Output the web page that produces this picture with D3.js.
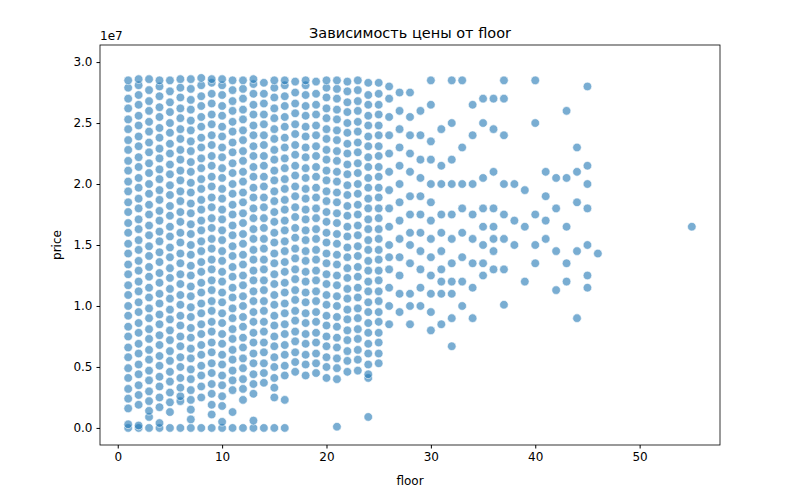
<!DOCTYPE html>
<html><head><meta charset="utf-8">
<script src="https://cdn.jsdelivr.net/npm/d3@7"></script>
<style>body{margin:0;background:#fff}text{font-family:"DejaVu Sans",sans-serif}</style>
</head><body><div id="chart"></div>
<script>
"use strict";

// price values in millions, read per floor from the picture
const floors = [1,2,3,4,5,6,7,8,9,10,11,12,13,14,15,16,17,18,19,20,21,22,23,24,25,
  26,27,28,29,30,31,32,33,34,35,36,37,38,39,40,41,42,43,44,45,46,55];

const pricesByFloor = [
  [0,0.3,1.6,2.4,3.2,4.1,4.9,5.8,6.6,7.5,8.3,9.2,10,10.9,11.7,12.6,13.4,14.3,15.1,16,16.8,17.7,18.5,19.4,20.2,21.1,21.9,22.8,23.6,24.5,25.3,26.2,27,27.9,28.5],
  [0,0.2,1.9,2.7,3.5,4.4,5.2,6.1,6.9,7.8,8.6,9.5,10.3,11.2,12,12.9,13.7,14.6,15.4,16.3,17.1,18,18.8,19.7,20.5,21.4,22.2,23.1,23.9,24.8,25.6,26.5,27.3,28.1,28.6],
  [0,0.9,1.4,2.2,3,3.9,4.7,5.6,6.4,7.3,8.1,9,9.8,10.7,11.5,12.4,13.2,14.1,14.9,15.8,16.6,17.5,18.3,19.2,20,20.9,21.7,22.6,23.4,24.3,25.1,26,26.8,27.7,28.6],
  [0,0.4,1.7,2.5,3.4,4.2,5.1,5.9,6.8,7.6,8.5,9.3,10.2,11,11.9,12.7,13.6,14.4,15.3,16.1,17,17.8,18.7,19.5,20.4,21.2,22.1,22.9,23.8,24.6,25.5,26.3,27.2,28,28.5],
  [0,1.3,2.1,2.9,3.8,4.6,5.5,6.3,7.2,8,8.9,9.7,10.6,11.4,12.3,13.1,14,14.8,15.7,16.5,17.4,18.2,19.1,19.9,20.8,21.6,22.5,23.3,24.2,25,25.9,26.7,27.6,28.5],
  [0,2.2,2.6,3.3,4.1,5,5.8,6.7,7.5,8.4,9.2,10.1,10.9,11.8,12.6,13.5,14.3,15.2,16,16.9,17.7,18.6,19.4,20.3,21.1,22,22.8,23.7,24.5,25.4,26.2,27.1,27.9,28.6],
  [0,0.7,1.5,2.3,3.1,4,4.8,5.7,6.5,7.4,8.2,9.1,9.9,10.8,11.6,12.5,13.3,14.2,15,15.9,16.7,17.6,18.4,19.3,20.1,21,21.8,22.7,23.5,24.4,25.2,26.1,26.9,27.8,28.6],
  [0,2.5,3.4,4.3,5.1,6,6.8,7.7,8.5,9.4,10.2,11.1,11.9,12.8,13.6,14.5,15.3,16.2,17,17.9,18.7,19.6,20.4,21.3,22.1,23,23.8,24.7,25.5,26.4,27.2,28.1,28.7],
  [0,1.1,1.9,2.8,3.6,4.5,5.3,6.2,7,7.9,8.7,9.6,10.4,11.3,12.1,13,13.8,14.7,15.5,16.4,17.2,18.1,18.9,19.8,20.6,21.5,22.3,23.2,24,24.9,25.7,26.6,27.4,28.3,28.6],
  [0,0.5,1.8,2.6,3.5,4.3,5.2,6,6.9,7.7,8.6,9.4,10.3,11.1,12,12.8,13.7,14.5,15.4,16.2,17.1,17.9,18.8,19.6,20.5,21.3,22.2,23,23.9,24.7,25.6,26.4,27.3,28.1,28.6],
  [0,1.3,3.1,3.9,4.7,5.6,6.4,7.3,8.1,9,9.8,10.7,11.5,12.4,13.2,14.1,14.9,15.8,16.6,17.5,18.3,19.2,20,20.9,21.7,22.6,23.4,24.3,25.1,26,26.8,27.7,28.5],
  [0,2.3,3.2,4,4.9,5.7,6.6,7.4,8.3,9.1,10,10.8,11.7,12.5,13.4,14.2,15.1,15.9,16.8,17.6,18.5,19.3,20.2,21,21.9,22.7,23.6,24.4,25.3,26.1,27,27.8,28.5],
  [0,0.6,2.8,3.6,4.4,5.3,6.1,7,7.8,8.7,9.5,10.4,11.2,12.1,12.9,13.8,14.6,15.5,16.3,17.2,18,18.9,19.7,20.6,21.4,22.3,23.1,24,24.8,25.7,26.5,27.4,28.2,28.6],
  [0,3.7,4.5,5.3,6.2,7,7.9,8.7,9.6,10.4,11.3,12.1,13,13.8,14.7,15.5,16.4,17.2,18.1,18.9,19.8,20.6,21.5,22.3,23.2,24,24.9,25.7,26.6,27.4,28.3],
  [0,2.5,3.3,4.1,5,5.8,6.7,7.5,8.4,9.2,10.1,10.9,11.8,12.6,13.5,14.3,15.2,16,16.9,17.7,18.6,19.4,20.3,21.1,22,22.8,23.7,24.5,25.4,26.2,27.1,27.9,28.5],
  [0,2.3,4.3,5.1,6,6.8,7.7,8.5,9.4,10.2,11.1,11.9,12.8,13.6,14.5,15.3,16.2,17,17.9,18.7,19.6,20.4,21.3,22.1,23,23.8,24.7,25.5,26.4,27.2,28.1,28.5],
  [4.6,5.4,6.2,7.1,7.9,8.8,9.6,10.5,11.3,12.2,13,13.9,14.7,15.6,16.4,17.3,18.1,19,19.8,20.7,21.5,22.4,23.2,24.1,24.9,25.8,26.6,27.5,28.4],
  [4.3,5.2,6,6.9,7.7,8.6,9.4,10.3,11.1,12,12.8,13.7,14.5,15.4,16.2,17.1,17.9,18.8,19.6,20.5,21.3,22.2,23,23.9,24.7,25.6,26.4,27.3,28.1,28.5],
  [4.5,5.3,6.1,7,7.8,8.7,9.5,10.4,11.2,12.1,12.9,13.8,14.6,15.5,16.3,17.2,18,18.9,19.7,20.6,21.4,22.3,23.1,24,24.8,25.7,26.5,27.4,28.4],
  [4.1,5,5.8,6.7,7.5,8.4,9.2,10.1,10.9,11.8,12.6,13.5,14.3,15.2,16,16.9,17.7,18.6,19.4,20.3,21.1,22,22.8,23.7,24.5,25.4,26.2,27.1,27.9,28.5],
  [0.1,4,4.9,5.7,6.6,7.4,8.3,9.1,10,10.8,11.7,12.5,13.4,14.2,15.1,15.9,16.8,17.6,18.5,19.3,20.2,21,21.9,22.7,23.6,24.4,25.3,26.1,27,27.8,28.5],
  [4.6,5.5,6.3,7.2,8,8.9,9.7,10.6,11.4,12.3,13.1,14,14.8,15.7,16.5,17.4,18.2,19.1,19.9,20.8,21.6,22.5,23.3,24.2,25,25.9,26.7,27.6,28.4],
  [4.7,5.6,6.4,7.3,8.1,9,9.8,10.7,11.5,12.4,13.2,14.1,14.9,15.8,16.6,17.5,18.3,19.2,20,20.9,21.7,22.6,23.4,24.3,25.1,26,26.8,27.7,28.5],
  [0.9,4.1,4.4,5.2,6.1,6.9,7.8,8.6,9.5,10.3,11.2,12,12.9,13.7,14.6,15.4,16.3,17.1,18,18.8,19.7,20.5,21.4,22.2,23.1,23.9,24.8,25.6,26.5,27.3,28.3],
  [5.3,6.1,7,7.8,8.7,9.5,10.4,11.2,12.1,12.9,13.8,14.6,15.5,16.3,17.2,18,18.9,19.7,20.6,21.4,22.3,23.1,24,24.8,25.7,26.5,27.4,28.3],
  [8.5,10,11.5,13,14,15,16.5,18,19.5,21,22.5,24,25.5,27,28],
  [9.5,11,12.5,14,15.5,17,18.5,20,21.5,23,24.5,26,27.5],
  [8.5,10,11,13.5,15,16,17.5,19,21,22.5,24,25.5,27.5],
  [10,11.5,13,14.5,16,17.5,19,20.5,22,24,26],
  [8,9.5,11,12.5,14,15.5,17,18.5,20,22,23.5,26.5,28.5],
  [8.5,11,12,13,14.5,16,17.5,20,21.5,24.5],
  [6.7,9,11,12,13.5,15.5,17.5,20,22,25,28.5],
  [10,12,14,16,18,20,23,28.5],
  [9,11.5,13.5,15.5,17.5,20,24,26.5],
  [12.5,13.5,15,16.5,18,20.5,25,27],
  [13,14.5,15.5,16.5,18,21,24.5,27],
  [10.1,13,15.5,17.5,20,24,27,28.5],
  [15,17,20],
  [12,16.5,19.5],
  [13.5,15,17.5,25,28.5],
  [15.5,17,19,21],
  [11.3,14.5,18,20.5],
  [12,13.5,16.5,20.5,26],
  [9,14.5,18.5,21,23],
  [11.5,12.5,15,18,20,21.5,28],
  [14.3],
  [16.5]
];

const xTicks = [0,10,20,30,40,50];
const yTicks = [0,0.5,1.0,1.5,2.0,2.5,3.0];

const points = [];
floors.forEach((f, i) => pricesByFloor[i].forEach(p => points.push({ floor: f, price: p * 1e6 })));

const W = 800, H = 500;
const margin = { top: 45, right: 80, bottom: 55, left: 100 };
const svg = d3.select("#chart").append("svg").attr("width", W).attr("height", H);

const x = d3.scaleLinear().domain([-1.7, 57.7]).range([margin.left, W - margin.right]);
const y = d3.scaleLinear().domain([-0.14e7, 3.14e7]).range([H - margin.bottom, margin.top]);

svg.append("g").selectAll("circle").data(points).enter().append("circle")
  .attr("cx", d => x(d.floor)).attr("cy", d => y(d.price)).attr("r", 4.3)
  .attr("fill", "#1f77b4").attr("fill-opacity", 0.6)
  .attr("stroke", "#fff").attr("stroke-width", 0.6);

const xAxis = svg.append("g").attr("transform", `translate(0,${H - margin.bottom})`)
  .call(d3.axisBottom(x).tickValues(xTicks).tickSize(3.5).tickPadding(4));
const yAxis = svg.append("g").attr("transform", `translate(${margin.left},0)`)
  .call(d3.axisLeft(y).tickValues(yTicks.map(v => v * 1e7)).tickFormat(d => (d / 1e7).toFixed(1)).tickSize(3.5).tickPadding(4));
[xAxis, yAxis].forEach(a => {
  a.selectAll("text").attr("font-size", 12).attr("fill", "#000");
  a.select(".domain").remove();
});

svg.append("rect").attr("x", margin.left).attr("y", margin.top)
  .attr("width", W - margin.left - margin.right).attr("height", H - margin.top - margin.bottom)
  .attr("fill", "none").attr("stroke", "#000").attr("stroke-width", 0.8);

svg.append("text").attr("x", margin.left).attr("y", margin.top - 5).attr("font-size", 12).text("1e7");
svg.append("text").attr("x", (margin.left + W - margin.right) / 2).attr("y", margin.top - 7)
  .attr("text-anchor", "middle").attr("font-size", 14.5).text("Зависимость цены от floor");
svg.append("text").attr("x", (margin.left + W - margin.right) / 2).attr("y", H - 15)
  .attr("text-anchor", "middle").attr("font-size", 12).text("floor");
svg.append("text").attr("transform", `translate(61,${(margin.top + H - margin.bottom) / 2}) rotate(-90)`)
  .attr("text-anchor", "middle").attr("font-size", 12).text("price");
</script></body></html>
